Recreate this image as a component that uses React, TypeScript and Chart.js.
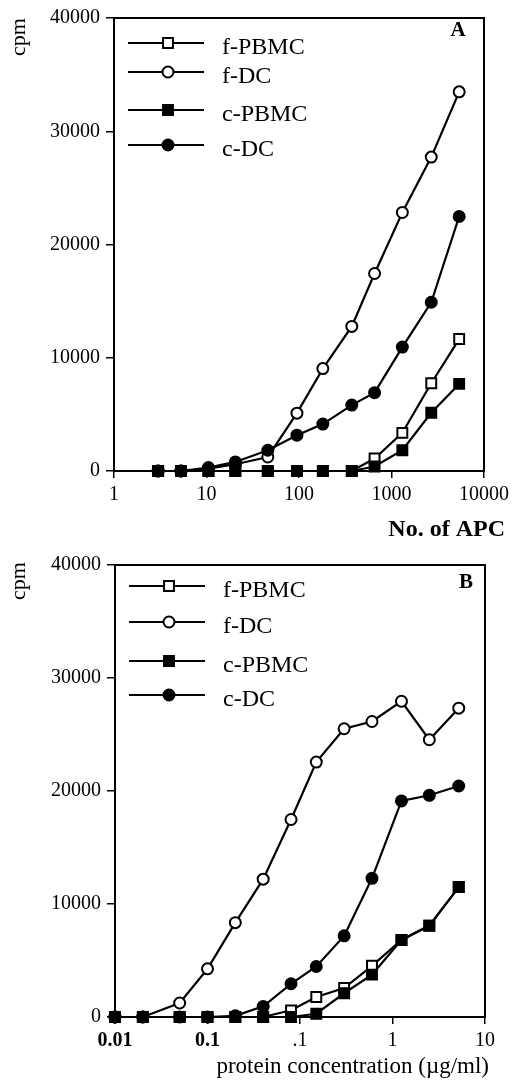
import { useEffect, useRef } from "react";
import { Chart, registerables } from "chart.js";
Chart.register(...registerables);

// ---------- data ----------
const seriesNames = ["f-PBMC", "f-DC", "c-PBMC", "c-DC"];

// Panel A: number of APC
const apcA = [3, 5.3, 10.5, 20.5, 46, 95, 181, 372, 656, 1310, 2690, 5390];
const fPbmcA = [0, 0, 0, 0, 0, 0, 0, 0, 1100, 3370, 7750, 11650];
const fDcA = [0, 0, 200, 600, 1240, 5110, 9040, 12770, 17440, 22830, 27720, 33480];
const cPbmcA = [0, 0, 0, 0, 0, 0, 0, 0, 400, 1830, 5140, 7690];
const cDcA = [0, 0, 300, 800, 1830, 3160, 4140, 5820, 6920, 10940, 14900, 22470];
const xTickValsA = [1, 10, 100, 1000, 10000];
const xTickLabelsA = ["1", "10", "100", "1000", "10000"];

// Panel B: protein concentration
const concB = [0.001, 0.002, 0.005, 0.01, 0.02, 0.04, 0.08, 0.15, 0.3, 0.6, 1.25, 2.5, 5.2];
const fPbmcB = [0, 0, 0, 0, 0, 0, 590, 1770, 2560, 4530, 6820, 8090, 11500];
const fDcB = [0, 0, 1240, 4260, 8350, 12200, 17480, 22560, 25510, 26150, 27940, 24540, 27330];
const cPbmcB = [0, 0, 0, 0, 0, 0, 0, 290, 2100, 3750, 6820, 8070, 11500];
const cDcB = [0, 0, 0, 0, 100, 940, 2940, 4470, 7180, 12270, 19120, 19620, 20440];
const xTickValsB = [0.001, 0.01, 0.1, 1, 10];
const xTickLabelsB = ["0.01", "0.1", ".1", "1", "10"];
const xTickBoldB = [true, true, false, false, false];

const yTickVals = [0, 10000, 20000, 30000, 40000];

// ---------- styles ----------
const SERIF = "'Liberation Serif', 'Times New Roman', serif";
const markerStyles = [
  { style: "rect", filled: false },
  { style: "circle", filled: false },
  { style: "rect", filled: true },
  { style: "circle", filled: true },
];
const drawOrder = [2, 3, 0, 1];

function drawMarker(ctx: CanvasRenderingContext2D, style: string, filled: boolean, x: number, y: number) {
  ctx.save();
  ctx.lineWidth = 2;
  ctx.strokeStyle = "#000";
  ctx.fillStyle = filled ? "#000" : "#fff";
  ctx.beginPath();
  if (style === "rect") {
    const s = 7 * Math.SQRT1_2;
    ctx.rect(x - s, y - s, 2 * s, 2 * s);
  } else {
    ctx.arc(x, y, 5.5, 0, Math.PI * 2);
  }
  ctx.fill();
  ctx.stroke();
  ctx.restore();
}

type PanelCfg = {
  height: number;
  area: { left: number; right: number; top: number; bottom: number };
  xs: number[];
  ys: number[][];
  xMin: number;
  xMax: number;
  xTickVals: number[];
  xTickLabels: string[];
  xTickBold: boolean[];
  xTitle: string;
  xTitleBold: boolean;
  xTitleSize: number;
  xTitleRight: number;
  xTitleY: number;
  letter: string;
  letterDx: number;
  letterDy: number;
  legendRows: number[];
  cpmY: number;
};

function Panel({ cfg }: { cfg: PanelCfg }) {
  const ref = useRef<HTMLCanvasElement | null>(null);
  useEffect(() => {
    const canvas = ref.current;
    if (!canvas) return;
    const W = 514;
    const a = cfg.area;

    const decor = {
      id: "decor",
      beforeDatasetsDraw(chart: any) {
        const ctx = chart.ctx as CanvasRenderingContext2D;
        const ca = chart.chartArea;
        ctx.save();
        ctx.strokeStyle = "#000";
        ctx.lineWidth = 2;
        ctx.strokeRect(ca.left, ca.top, ca.right - ca.left, ca.bottom - ca.top);
        ctx.restore();
      },
      afterDraw(chart: any) {
        const ctx = chart.ctx as CanvasRenderingContext2D;
        const ca = chart.chartArea;
        ctx.save();
        // legend
        seriesNames.forEach((name, i) => {
          const y = ca.top + cfg.legendRows[i];
          ctx.strokeStyle = "#000";
          ctx.lineWidth = 2.2;
          ctx.beginPath();
          ctx.moveTo(ca.left + 14, y);
          ctx.lineTo(ca.left + 90, y);
          ctx.stroke();
          drawMarker(ctx, markerStyles[i].style, markerStyles[i].filled, ca.left + 54, y);
          ctx.fillStyle = "#000";
          ctx.font = `24px ${SERIF}`;
          ctx.textAlign = "left";
          ctx.textBaseline = "middle";
          ctx.fillText(name, ca.left + 108, y + 5);
        });
        // panel letter
        ctx.font = `bold 21px ${SERIF}`;
        ctx.textAlign = "center";
        ctx.textBaseline = "middle";
        ctx.fillText(cfg.letter, ca.right - cfg.letterDx, ca.top + cfg.letterDy);
        // y title
        ctx.save();
        ctx.translate(19, cfg.cpmY);
        ctx.rotate(-Math.PI / 2);
        ctx.font = `22px ${SERIF}`;
        ctx.textAlign = "center";
        ctx.textBaseline = "middle";
        ctx.fillText("cpm", 0, 0);
        ctx.restore();
        // x title
        ctx.font = `${cfg.xTitleBold ? "bold " : ""}${cfg.xTitleSize}px ${SERIF}`;
        ctx.textAlign = "right";
        ctx.textBaseline = "middle";
        ctx.fillText(cfg.xTitle, cfg.xTitleRight, cfg.xTitleY);
        ctx.restore();
      },
    };

    const datasets = seriesNames.map((name, i) => ({
      label: name,
      data: cfg.xs.map((x, j) => ({ x, y: cfg.ys[i][j] })),
      borderColor: "#000",
      borderWidth: 2.2,
      backgroundColor: markerStyles[i].filled ? "#000" : "#fff",
      pointStyle: markerStyles[i].style,
      pointRadius: markerStyles[i].style === "rect" ? 7 : 5.5,
      pointBorderWidth: 2,
      pointBorderColor: "#000",
      pointBackgroundColor: markerStyles[i].filled ? "#000" : "#fff",
      tension: 0,
      clip: false as any,
      order: drawOrder[i],
    }));

    const chart = new Chart(canvas, {
      type: "line",
      data: { datasets },
      options: {
        animation: false,
        responsive: false,
        devicePixelRatio: 1,
        layout: { padding: { left: 0, top: a.top, right: W - a.right, bottom: 0 } },
        plugins: { legend: { display: false }, tooltip: { enabled: false } },
        scales: {
          x: {
            type: "logarithmic",
            min: cfg.xMin,
            max: cfg.xMax,
            afterBuildTicks: (scale: any) => {
              scale.ticks = cfg.xTickVals.map((v) => ({ value: v }));
            },
            afterFit: (scale: any) => {
              scale.height = cfg.height - a.bottom;
            },
            ticks: {
              autoSkip: false,
              maxRotation: 0,
              padding: 5,
              color: "#000",
              callback: (_v: any, idx: number) => cfg.xTickLabels[idx],
              font: (ctx: any) => ({
                family: SERIF,
                size: 20,
                weight: cfg.xTickBold[ctx.index] ? "bold" : "normal",
              }),
            },
            grid: { drawOnChartArea: false, drawTicks: true, tickLength: 7, color: "#000", lineWidth: 1.5 },
            border: { display: true, color: "#000", width: 2 },
          },
          y: {
            type: "linear",
            min: 0,
            max: 40000,
            afterBuildTicks: (scale: any) => {
              scale.ticks = yTickVals.map((v) => ({ value: v }));
            },
            afterFit: (scale: any) => {
              scale.width = a.left;
            },
            ticks: {
              padding: 6,
              color: "#000",
              callback: (v: any) => String(v),
              font: { family: SERIF, size: 20 },
            },
            grid: { drawOnChartArea: false, drawTicks: true, tickLength: 8, color: "#000", lineWidth: 1.5 },
            border: { display: true, color: "#000", width: 2 },
          },
        },
      } as any,
      plugins: [decor],
    });
    return () => chart.destroy();
  }, [cfg]);

  return <canvas ref={ref} width={514} height={cfg.height} style={{ display: "block", width: 514, height: cfg.height }} />;
}

const panelA: PanelCfg = {
  height: 540,
  area: { left: 114, right: 486, top: 18, bottom: 471 },
  xs: apcA,
  ys: [fPbmcA, fDcA, cPbmcA, cDcA],
  xMin: 1,
  xMax: 10000,
  xTickVals: xTickValsA,
  xTickLabels: xTickLabelsA,
  xTickBold: [false, false, false, false, false],
  xTitle: "No. of APC",
  xTitleBold: true,
  xTitleSize: 24,
  xTitleRight: 505,
  xTitleY: 530,
  letter: "A",
  letterDx: 26,
  letterDy: 13,
  legendRows: [25, 54, 92, 127],
  cpmY: 37,
};

const panelB: PanelCfg = {
  height: 543,
  area: { left: 115, right: 485, top: 25, bottom: 477 },
  xs: concB,
  ys: [fPbmcB, fDcB, cPbmcB, cDcB],
  xMin: 0.001,
  xMax: 10,
  xTickVals: xTickValsB,
  xTickLabels: xTickLabelsB,
  xTickBold: xTickBoldB,
  xTitle: "protein concentration (\u00b5g/ml)",
  xTitleBold: false,
  xTitleSize: 23,
  xTitleRight: 489,
  xTitleY: 527,
  letter: "B",
  letterDx: 19,
  letterDy: 18,
  legendRows: [21, 57, 96, 130],
  cpmY: 41,
};

export default function App() {
  return (
    <div style={{ position: "absolute", left: 0, top: 0, width: 514, height: 1083, background: "#fff" }}>
      <Panel cfg={panelA} />
      <Panel cfg={panelB} />
    </div>
  );
}
